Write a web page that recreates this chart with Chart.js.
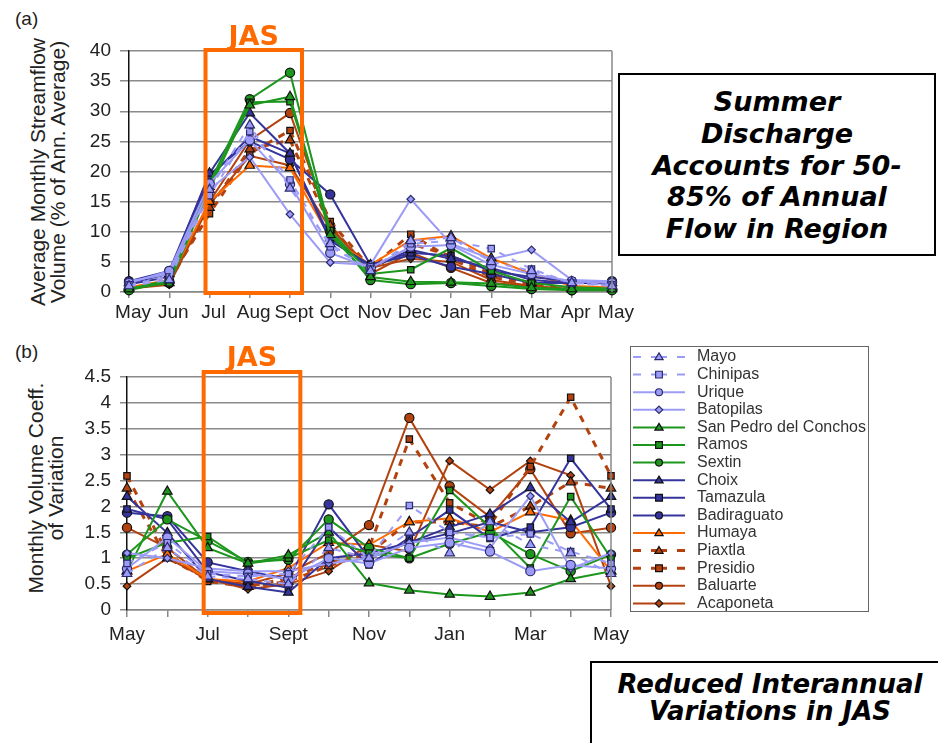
<!DOCTYPE html>
<html>
<head>
<meta charset="utf-8">
<script src="https://cdn.jsdelivr.net/npm/chart.js@4/dist/chart.umd.min.js"></script>
<style>
  body { margin: 0; background: #fff; width: 938px; height: 743px; overflow: hidden; position: relative; font-family: "Liberation Sans", Arial, sans-serif; }
  canvas { position: absolute; left: 0; }
  #chartA { top: 0; }
  #chartB { top: 330px; }
  .panel { position: absolute; font-size: 19px; color: #222; }
  .ytitle { position: absolute; font-size: 21px; line-height: 19.5px; color: #222; text-align: center; white-space: nowrap;
            transform: translate(-50%, -50%) rotate(-90deg); }
  .note { position: absolute; border: 2px solid #000; background: #fff; box-sizing: border-box;
          font-family: "DejaVu Sans", Verdana, sans-serif; font-weight: bold; font-style: italic; text-align: center; color: #000; }
</style>
</head>
<body>
<div class="panel" style="left:15px; top:8px;">(a)</div>
<div class="panel" style="left:15px; top:341px;">(b)</div>
<div class="ytitle" style="left:47px; top:172px;">Average Monthly Streamflow<br>Volume (% of Ann. Average)</div>
<div class="ytitle" style="left:45px; top:488px;">Monthly Volume Coeff.<br>of Variation</div>
<canvas id="chartA" width="938" height="330"></canvas>
<canvas id="chartB" width="938" height="330"></canvas>
<div class="note" style="left:618px; top:73px; width:318px; height:183px; font-size:27px; line-height:31.8px; padding-top:11px;">
  Summer<br>Discharge<br>Accounts for 50-<br>85% of Annual<br>Flow in Region
</div>
<div class="note" style="left:590px; top:661px; width:360px; height:100px; font-size:26px; line-height:27px; padding-top:8px; padding-right:0;">
  Reduced Interannual<br>Variations in JAS
</div>
<script>
// months, May to May
const months = ['May', 'Jun', 'Jul', 'Aug', 'Sept', 'Oct', 'Nov', 'Dec', 'Jan', 'Feb', 'Mar', 'Apr', 'May'];

const stations = ['Mayo', 'Chinipas', 'Urique', 'Batopilas', 'San Pedro del Conchos', 'Ramos', 'Sextin',
                  'Choix', 'Tamazula', 'Badiraguato', 'Humaya', 'Piaxtla', 'Presidio', 'Baluarte', 'Acaponeta'];

// (a) average monthly streamflow volume, % of annual average (one row per station)
const streamflow = [
    [1.0, 2.0, 17.0, 27.7, 17.2, 8.0, 3.5, 8.5, 9.0, 5.0, 3.5, 1.5, 1.0],
    [1.2, 2.5, 16.0, 26.6, 18.6, 7.5, 3.8, 8.0, 8.5, 7.2, 3.8, 1.5, 1.2],
    [1.5, 3.5, 18.0, 25.2, 17.9, 6.5, 4.0, 7.5, 7.8, 4.5, 3.0, 1.8, 1.5],
    [1.8, 3.0, 17.0, 22.4, 12.9, 4.9, 4.5, 15.4, 8.0, 5.5, 7.0, 2.0, 1.8],
    [0.5, 2.0, 17.5, 31.0, 32.4, 9.5, 2.5, 1.7, 1.6, 1.4, 0.7, 0.5, 0.5],
    [0.6, 1.5, 17.0, 31.5, 31.6, 10.2, 3.0, 3.7, 7.3, 3.5, 1.5, 0.8, 0.6],
    [0.3, 1.8, 18.0, 32.0, 36.4, 10.0, 2.0, 1.3, 1.5, 1.0, 0.5, 0.3, 0.3],
    [1.5, 3.0, 19.7, 29.7, 23.0, 9.0, 4.0, 7.0, 5.5, 4.0, 2.0, 1.5, 1.5],
    [1.3, 2.5, 19.0, 25.8, 23.0, 8.5, 4.5, 6.5, 6.0, 3.5, 2.5, 1.8, 1.3],
    [1.8, 3.5, 19.5, 25.0, 22.0, 16.2, 4.5, 6.1, 4.2, 3.0, 1.5, 1.5, 1.8],
    [0.8, 2.0, 15.0, 21.0, 20.6, 9.0, 4.5, 8.6, 9.3, 5.6, 3.0, 1.0, 0.8],
    [0.8, 1.5, 14.0, 23.7, 25.2, 11.0, 3.5, 8.0, 6.0, 3.0, 1.5, 0.5, 0.8],
    [0.7, 2.0, 13.0, 23.0, 26.8, 11.7, 4.0, 9.6, 5.5, 2.5, 1.2, 0.4, 0.7],
    [0.5, 1.5, 15.0, 25.2, 29.7, 11.0, 3.0, 6.5, 4.0, 1.5, 1.0, 0.3, 0.5],
    [0.6, 1.2, 14.5, 22.6, 21.0, 10.5, 4.0, 5.5, 5.0, 2.0, 1.0, 0.5, 0.6]
];

// (b) monthly volume coefficient of variation
const coeffVar = [
    [0.70, 1.20, 0.65, 0.60, 0.50, 1.20, 1.00, 1.50, 1.10, 1.70, 1.26, 1.10, 0.70],
    [0.90, 1.30, 0.70, 0.65, 0.70, 1.60, 1.00, 2.02, 1.50, 1.40, 1.47, 1.13, 0.90],
    [0.80, 1.40, 0.75, 0.70, 0.60, 1.00, 0.90, 1.20, 1.30, 1.13, 0.75, 0.87, 0.80],
    [1.10, 1.00, 0.80, 0.75, 0.75, 0.90, 1.00, 1.30, 1.40, 1.20, 2.20, 0.80, 1.10],
    [0.75, 2.29, 1.20, 0.90, 1.06, 1.50, 0.52, 0.38, 0.30, 0.26, 0.34, 0.60, 0.75],
    [1.00, 1.30, 1.42, 0.90, 1.00, 1.35, 1.10, 1.00, 2.31, 1.60, 0.81, 2.19, 1.00],
    [1.07, 1.75, 1.33, 0.93, 0.97, 1.75, 1.20, 1.00, 1.28, 1.50, 1.08, 0.75, 1.07],
    [2.19, 1.49, 0.60, 0.45, 0.34, 1.00, 1.10, 1.30, 1.60, 1.85, 2.36, 1.70, 2.19],
    [1.95, 1.75, 0.73, 0.56, 0.43, 1.60, 0.87, 1.40, 1.93, 1.38, 1.60, 2.93, 1.95],
    [1.88, 1.81, 0.92, 0.75, 0.60, 2.04, 1.00, 1.30, 1.48, 1.70, 1.50, 1.60, 1.88],
    [0.75, 1.08, 0.60, 0.55, 0.81, 1.30, 1.26, 1.70, 1.77, 1.51, 1.89, 1.73, 0.75],
    [2.35, 1.00, 0.60, 0.45, 0.55, 0.85, 1.10, 1.70, 1.70, 1.60, 2.00, 2.47, 2.35],
    [2.59, 1.10, 0.55, 0.45, 0.62, 0.90, 1.20, 3.30, 2.07, 1.64, 2.77, 4.11, 2.59],
    [1.59, 1.20, 0.59, 0.50, 0.71, 1.10, 1.64, 3.71, 2.39, 1.80, 2.72, 1.48, 1.59],
    [0.46, 1.00, 0.60, 0.40, 0.50, 0.75, 1.26, 1.13, 2.88, 2.32, 2.88, 2.60, 0.46]
];

const flowTicks = [0, 5, 10, 15, 20, 25, 30, 35, 40];
const cvTicks = [0, 0.5, 1, 1.5, 2, 2.5, 3, 3.5, 4, 4.5];

// --- estilos por estación ---
const LAV = '#9c9cf7', GREEN = '#1c961c', BLUE = '#34349c', ORANGE = '#ff6a00', BROWN = '#b4420e';
const stationColors = [LAV, LAV, LAV, LAV, GREEN, GREEN, GREEN, BLUE, BLUE, BLUE, ORANGE, BROWN, BROWN, BROWN, BROWN];
const stationMarkers = ['triangle', 'rect', 'circle', 'rectRot', 'triangle', 'rect', 'circle',
                        'triangle', 'rect', 'circle', 'triangle', 'triangle', 'rect', 'circle', 'rectRot'];
const stationDashed = [true, true, false, false, false, false, false, false, false, false, false, true, true, false, false];
const markerRadius = { triangle: 5.5, rect: 4.5, circle: 4.6, rectRot: 3.8 };

function buildDatasets(rows) {
    return stations.map((name, i) => ({
        label: name,
        data: rows[i],
        borderColor: stationColors[i],
        backgroundColor: stationColors[i],
        borderWidth: stationDashed[i] && stationColors[i] === BROWN ? 3 : 2,
        borderDash: stationDashed[i] ? [7, 7] : [],
        pointStyle: stationMarkers[i],
        pointRadius: markerRadius[stationMarkers[i]],
        pointBackgroundColor: stationColors[i],
        pointBorderColor: stationColors[i] === LAV ? '#2a2a70' : '#111',
        pointBorderWidth: 1.2,
        tension: 0,
        clip: false
    }));
}

function drawMarker(ctx, style, r, x, y) {
    ctx.beginPath();
    if (style === 'circle') {
        ctx.arc(x, y, r, 0, Math.PI * 2);
    } else if (style === 'rect') {
        ctx.rect(x - r, y - r, 2 * r, 2 * r);
    } else if (style === 'rectRot') {
        ctx.moveTo(x, y - r * 1.3); ctx.lineTo(x + r * 1.3, y);
        ctx.lineTo(x, y + r * 1.3); ctx.lineTo(x - r * 1.3, y);
        ctx.closePath();
    } else {
        const h = r * 1.5;
        ctx.moveTo(x, y - h * 0.66); ctx.lineTo(x + r, y + h * 0.44);
        ctx.lineTo(x - r, y + h * 0.44); ctx.closePath();
    }
    ctx.fill(); ctx.stroke();
}

// recuadro naranja JAS + marco derecho del área
const jasBox = {
    id: 'jasBox',
    afterDatasetsDraw(chart, args, opts) {
        const { ctx, chartArea } = chart;
        const x = chart.scales.x;
        ctx.save();
        ctx.strokeStyle = '#888';
        ctx.lineWidth = 1.5;
        ctx.beginPath();
        ctx.moveTo(chartArea.right, chartArea.top);
        ctx.lineTo(chartArea.right, chartArea.bottom);
        ctx.stroke();
        const left = x.getPixelForValue(2) - 4;
        const right = x.getPixelForValue(4) + 12;
        const top = chartArea.top + opts.top;
        const bottom = chartArea.bottom + opts.bottom;
        ctx.strokeStyle = ORANGE;
        ctx.lineWidth = 4;
        ctx.strokeRect(left, top, right - left, bottom - top);
        ctx.fillStyle = ORANGE;
        ctx.font = 'bold 27px "DejaVu Sans", Verdana, sans-serif';
        ctx.textAlign = 'center';
        ctx.textBaseline = 'middle';
        ctx.fillText('JAS', (left + right) / 2, opts.labelY);
        ctx.restore();
    }
};

const legendBox = {
    id: 'legendBox',
    afterDraw(chart, args, opts) {
        if (!opts.show) return;
        const ctx = chart.ctx;
        ctx.save();
        ctx.fillStyle = '#fff';
        ctx.fillRect(opts.x, opts.y, opts.w, opts.h);
        ctx.strokeStyle = '#666';
        ctx.lineWidth = 1;
        ctx.strokeRect(opts.x + 0.5, opts.y + 0.5, opts.w, opts.h);
        chart.data.datasets.forEach((ds, i) => {
            const cy = opts.y + 11 + i * opts.rowH;
            const x0 = opts.x + 3, xm = opts.x + 29, x1 = opts.x + 55;
            ctx.strokeStyle = ds.borderColor;
            ctx.lineWidth = ds.borderWidth;
            ctx.beginPath();
            if (ds.borderDash.length) {
                ctx.moveTo(x0, cy); ctx.lineTo(x0 + 8, cy);
                ctx.moveTo(xm - 8, cy); ctx.lineTo(xm + 8, cy);
                ctx.moveTo(x1 - 8, cy); ctx.lineTo(x1, cy);
            } else {
                ctx.moveTo(x0, cy); ctx.lineTo(x1, cy);
            }
            ctx.stroke();
            ctx.fillStyle = ds.pointBackgroundColor;
            ctx.strokeStyle = ds.pointBorderColor;
            ctx.lineWidth = 1.2;
            drawMarker(ctx, ds.pointStyle, ds.pointRadius * 0.75, xm, cy);
            ctx.fillStyle = '#333';
            ctx.font = '16px "Liberation Sans", Arial, sans-serif';
            ctx.textAlign = 'left';
            ctx.textBaseline = 'middle';
            ctx.fillText(ds.label, opts.x + 67, cy);
        });
        ctx.restore();
    }
};

Chart.defaults.font.family = '"Liberation Sans", Arial, sans-serif';
Chart.defaults.font.size = 19;
Chart.defaults.color = '#222';
Chart.defaults.animation = false;

function makeOptions(cfg) {
    return {
        responsive: false,
        animation: false,
        layout: { padding: { top: cfg.top, right: cfg.right, bottom: 0, left: 0 } },
        plugins: {
            legend: { display: false },
            tooltip: { enabled: false },
            jasBox: cfg.jas,
            legendBox: cfg.legend
        },
        scales: {
            x: {
                type: 'category',
                offset: false,
                grid: { display: true, drawOnChartArea: false, drawTicks: true, tickLength: cfg.xTick, color: '#888', lineWidth: 1.5 },
                border: { color: '#888', width: 1.5 },
                ticks: {
                    padding: cfg.xPad,
                    maxRotation: 0,
                    autoSkip: false,
                    labelOffset: cfg.xShift,
                    callback: cfg.xLabel
                },
                afterFit: s => { s.height = cfg.xHeight; }
            },
            y: {
                min: cfg.ticks[0],
                max: cfg.ticks[cfg.ticks.length - 1],
                afterBuildTicks: s => { s.ticks = cfg.ticks.map(v => ({ value: v })); },
                grid: { color: '#8a8a8a', lineWidth: 1.5, tickLength: cfg.yTick },
                border: { color: '#111', width: 1.5 },
                ticks: { padding: cfg.yPad, callback: v => String(v) },
                afterFit: s => { s.width = cfg.yWidth; }
            }
        }
    };
}

new Chart(document.getElementById('chartA'), {
    type: 'line',
    data: { labels: months, datasets: buildDatasets(streamflow) },
    options: makeOptions({
        top: 51, right: 326, xHeight: 38, yWidth: 129, xTick: 6, xPad: 3, xShift: 4, yTick: 9, yPad: 9,
        ticks: flowTicks,
        xLabel: function (v, i) { return months[i]; },
        jas: { top: -1, bottom: 1, labelY: 38 },
        legend: { show: false }
    }),
    plugins: [jasBox, legendBox]
});

new Chart(document.getElementById('chartB'), {
    type: 'line',
    data: { labels: months, datasets: buildDatasets(coeffVar) },
    options: makeOptions({
        top: 47, right: 327, xHeight: 50, yWidth: 127, xTick: 7, xPad: 6, xShift: 0, yTick: 7, yPad: 9,
        ticks: cvTicks,
        xLabel: function (v, i) { return i % 2 === 0 ? months[i] : ''; },
        jas: { top: -5, bottom: 3, labelY: 29 },
        legend: { show: true, x: 630, y: 16, w: 238, h: 265, rowH: 17.6 }
    }),
    plugins: [jasBox, legendBox]
});
</script>
</body>
</html>
